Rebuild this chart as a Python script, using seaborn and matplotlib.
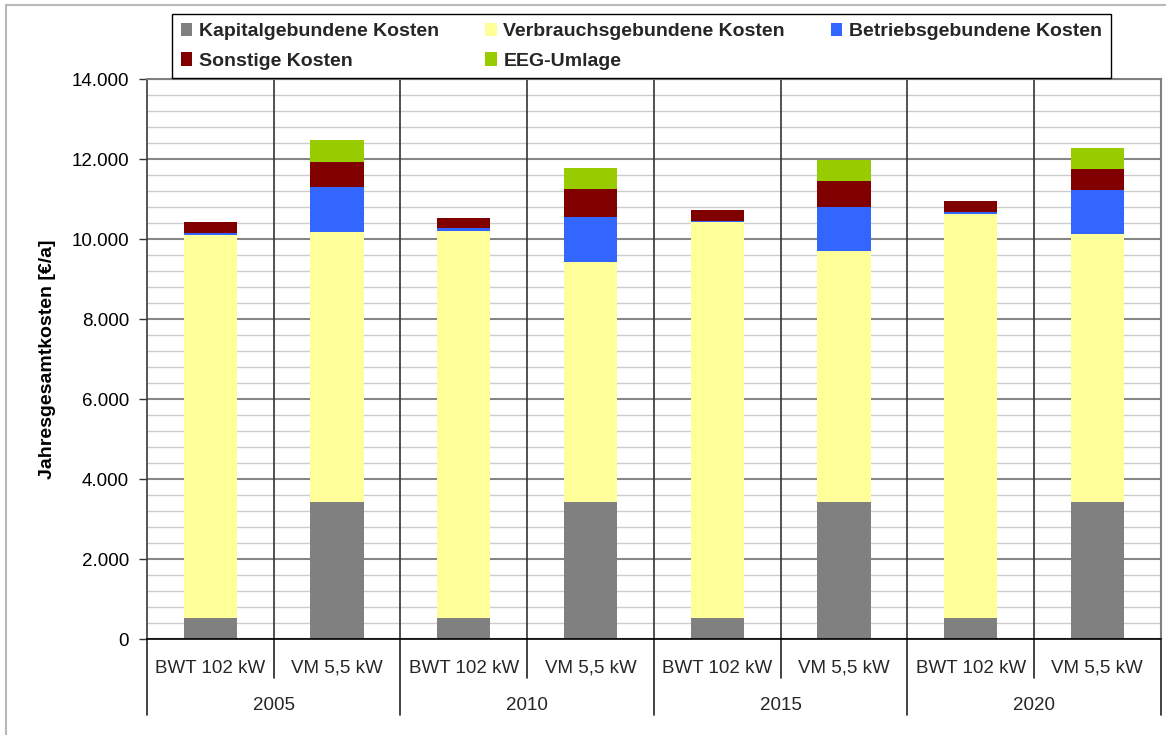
import numpy as np
import pandas as pd
import matplotlib.pyplot as plt
from matplotlib.patches import Patch
from matplotlib.lines import Line2D
from matplotlib.ticker import MultipleLocator, FuncFormatter
import seaborn as sns

# values (EUR per year)
years = ["2005", "2010", "2015", "2020"]
systems = ["BWT 102 kW", "VM 5,5 kW"]

kapital = [530, 3430, 530, 3430, 530, 3430, 530, 3430]
verbrauch = [9570, 6745, 9670, 5995, 9895, 6270, 10095, 6695]
betrieb = [50, 1125, 75, 1125, 25, 1100, 50, 1100]
sonstige = [275, 625, 250, 700, 275, 650, 275, 525]
eeg = [0, 550, 0, 525, 0, 525, 0, 525]

series_names = ["Kapitalgebundene Kosten", "Verbrauchsgebundene Kosten",
                "Betriebsgebundene Kosten", "Sonstige Kosten", "EEG-Umlage"]
colors = ["#808080", "#FFFF99", "#3366FF", "#800000", "#99CC00"]

sns.set_theme(style="white")
plt.rcParams['font.family'] = ['Liberation Sans', 'DejaVu Sans']

slots = [f"{y}|{s}" for y in years for s in systems]
stack = np.cumsum(np.array([kapital, verbrauch, betrieb, sonstige, eeg]), axis=0)

fig = plt.figure(figsize=(11.75, 7.35), dpi=100)
ax = fig.add_axes([147 / 1175, 1 - 639 / 735, (1160.7 - 147) / 1175, 560 / 735])

# stacked bars: draw cumulative totals from top layer down
for i in range(len(series_names) - 1, -1, -1):
    df = pd.DataFrame({"slot": slots, "total": stack[i]})
    sns.barplot(data=df, x="slot", y="total", order=slots, color=colors[i],
                width=0.42, linewidth=0, saturation=1, errorbar=None, ax=ax)

ax.set_xlim(-0.5, 7.5)
ax.set_ylim(0, 14000)
ax.set_xticks([])
ax.set_xlabel("")

ax.yaxis.set_major_locator(MultipleLocator(2000))
ax.yaxis.set_minor_locator(MultipleLocator(400))
ax.yaxis.set_major_formatter(FuncFormatter(lambda v, p: f"{int(v):,}".replace(",", ".")))
ax.set_axisbelow(True)
ax.grid(which='minor', axis='y', color='#cccccc', lw=1)
ax.grid(which='major', axis='y', color='#868686', lw=1.5)
ax.tick_params(axis='y', which='major', left=True, length=6, width=1, color='#333333',
               direction='out', pad=7, labelsize=13.5, labelcolor='black')
ax.tick_params(axis='y', which='minor', left=False, length=0)

ax.set_ylabel("Jahresgesamtkosten [€/a]", fontsize=14, fontweight='bold', labelpad=11, color='black')

for side in ['top', 'right']:
    ax.spines[side].set_color('#808080')
    ax.spines[side].set_linewidth(1.5)
ax.spines['left'].set_color('#404040')
ax.spines['bottom'].set_color('black')
ax.spines['bottom'].set_linewidth(1.2)

# category separators and two-level axis labels
trans = ax.get_xaxis_transform()
for k in range(1, 8):
    ax.axvline(k - 0.5, color='#333333', lw=1.2, zorder=1)
for k in range(0, 9):
    low = -0.1357 if k % 2 == 0 else -0.0696
    ax.add_line(Line2D([k - 0.5, k - 0.5], [0, low], transform=trans, color='#222222',
                       lw=1.2, clip_on=False))
for i, s in enumerate(slots):
    ax.text(i, -0.0518, s.split("|")[1], transform=trans, ha='center', va='center', fontsize=13.5)
for j, y in enumerate(years):
    ax.text(2 * j + 0.5, -0.1196, y, transform=trans, ha='center', va='center', fontsize=13.5)

# legend, row-major order in 3 columns
handles = [Patch(facecolor=c, edgecolor='none', label=n) for n, c in zip(series_names, colors)]
order = [0, 3, 1, 4, 2]
leg = fig.legend(handles=[handles[i] for i in order], ncol=3, loc='upper left',
                 bbox_to_anchor=(172 / 1175, 1 - 14 / 735, 939 / 1175, 0), mode='expand',
                 borderaxespad=0, fancybox=False, framealpha=1, edgecolor='black',
                 prop={'weight': 'bold', 'size': 14}, handlelength=0.6, handleheight=0.7,
                 handletextpad=0.35, labelspacing=0.6, borderpad=0.45)
leg.get_frame().set_linewidth(1)

# light outer frame of the chart area
fig.add_artist(Line2D([6 / 1175, 6 / 1175], [0, 1 - 5 / 735], transform=fig.transFigure,
                      color='#b8b8b8', lw=1.5))
fig.add_artist(Line2D([6 / 1175, 1165 / 1175], [1 - 5 / 735, 1 - 5 / 735], transform=fig.transFigure,
                      color='#b8b8b8', lw=1.5))

fig.savefig("out.png", dpi=100)
